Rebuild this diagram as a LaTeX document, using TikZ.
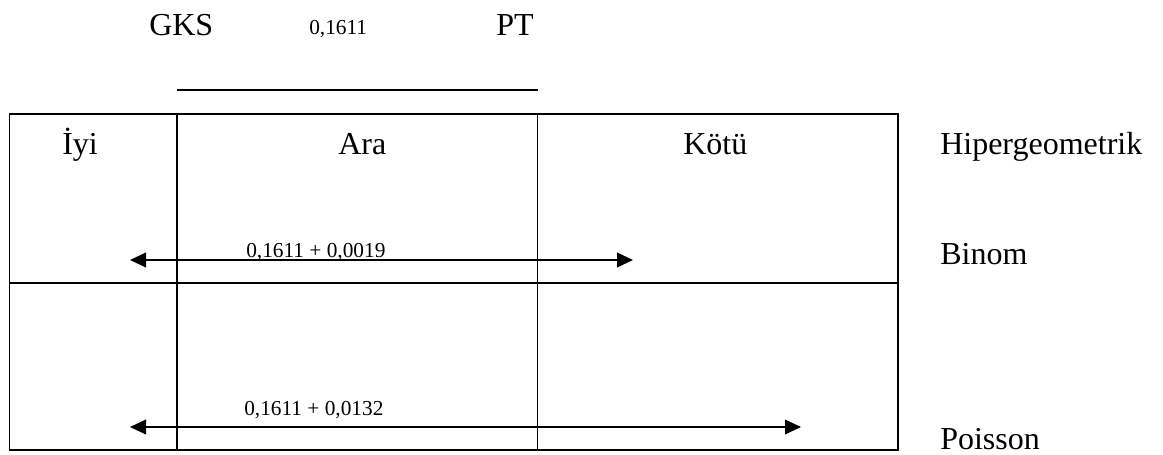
\documentclass[tikz,border=0pt]{standalone}
\usepackage{fontspec}
\setmainfont{Liberation Serif}
\usetikzlibrary{arrows.meta}
\begin{document}
\begin{tikzpicture}[x=0.75pt,y=-0.75pt,
  bigtext/.style={inner sep=0pt,anchor=base west,font=\fontsize{24}{29}\selectfont},
  smalltext/.style={inner sep=0pt,anchor=base west,font=\fontsize{16}{19}\selectfont},
  gridline/.style={line width=1.3pt},
  spanarrow/.style={line width=1.1pt,{Triangle[length=12pt,width=11pt]}-{Triangle[length=12pt,width=11pt]}}]
\useasboundingbox (0,0) rectangle (1163,454);

% heading above the table
\node[bigtext]   (gks)  at (149,35) {GKS};
\node[smalltext] (val)  at (309,34) {0,1611};
\node[bigtext]   (pt)   at (496,35) {PT};
\coordinate (barL) at (177,90);
\coordinate (barR) at (538,90);
\draw[gridline] (barL) -- (barR);

% table frame and cell rules
\coordinate (tl) at (9.5,114);
\coordinate (br) at (898,450);
\draw[gridline] (tl) rectangle (br);
\draw[gridline] (177,114) -- (177,450);
\draw[gridline] (537.5,114) -- (537.5,450);
\draw[gridline] (9.5,283) -- (898,283);

% column headings
\node[bigtext] (iyi)  at (62,154)  {İyi};
\node[bigtext] (ara)  at (338,154) {Ara};
\node[bigtext] (kotu) at (683,154) {Kötü};

% distribution names
\node[bigtext] (hiper)   at (940,154) {Hipergeometrik};
\node[bigtext] (binom)   at (940,264) {Binom};
\node[bigtext] (poisson) at (940,449) {Poisson};

% interval arrows
\coordinate (b1) at (130,260);
\coordinate (b2) at (633,260);
\draw[spanarrow] (b1) -- (b2);
\node[smalltext] (binlab) at (246,257) {0,1611 + 0,0019};

\coordinate (p1) at (130,427);
\coordinate (p2) at (801,427);
\draw[spanarrow] (p1) -- (p2);
\node[smalltext] (poilab) at (244,415) {0,1611 + 0,0132};
\end{tikzpicture}
\end{document}
